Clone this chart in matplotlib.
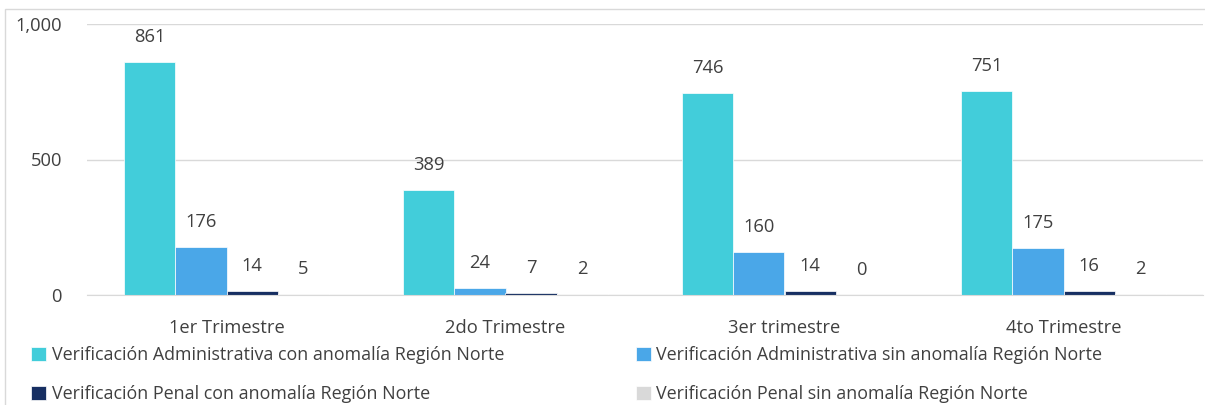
import numpy as np
import matplotlib.pyplot as plt
from matplotlib.patches import Rectangle

# data
categories = ["1er Trimestre", "2do Trimestre", "3er trimestre", "4to Trimestre"]
series_names = [
    "Verificación Administrativa con anomalía Región Norte",
    "Verificación Administrativa sin anomalía Región Norte",
    "Verificación Penal con anomalía Región Norte",
    "Verificación Penal sin anomalía Región Norte",
]
adm_con = [861, 389, 746, 751]
adm_sin = [176, 24, 160, 175]
pen_con = [14, 7, 14, 16]
pen_sin = [5, 2, 0, 2]
colors = ["#42CDDA", "#4AA7E8", "#172F62", "#D9D9D9"]

plt.rcParams['font.family'] = ['Open Sans', 'DejaVu Sans']
text_col = "#404040"
fs = 13.2

fig = plt.figure(figsize=(12.05, 4.05), dpi=100)
ax = fig.add_axes([87/1205, 1 - 295/405, 1116/1205, (295 - 24)/405])

x = np.arange(len(categories))
width = 0.183
all_series = [adm_con, adm_sin, pen_con, pen_sin]
handles = []
for i, (vals, col, name) in enumerate(zip(all_series, colors, series_names)):
    pos = x + (i - 1.5) * width
    bars = ax.bar(pos, vals, width, color=col, label=name, edgecolor="white", linewidth=0.5)
    handles.append(bars)
    for p, v in zip(pos, vals):
        ax.annotate(str(v), (p, v), xytext=(0, 18), textcoords="offset points",
                    ha="center", va="center", fontsize=fs, color=text_col)

ax.set_xlim(-0.5, 3.5)
ax.set_ylim(0, 1000)
ax.set_yticks([0, 500, 1000])
ax.set_yticklabels(["0", "500", "1,000"])
ax.set_xticks(x)
ax.set_xticklabels(categories)
ax.tick_params(axis="both", length=0, labelsize=fs, colors=text_col)
ax.tick_params(axis="x", pad=17)
ax.tick_params(axis="y", pad=18)
ax.grid(axis="y", color="#D9D9D9", linewidth=1)
ax.set_axisbelow(True)
for s in ["top", "right", "left"]:
    ax.spines[s].set_visible(False)
ax.spines["bottom"].set_color("#D9D9D9")

# outer chart frame
fig.patches.append(Rectangle((5/1205, -0.1), 1.2, 1 - 9/405 + 0.1, transform=fig.transFigure,
                             fill=False, edgecolor="#D9D9D9", linewidth=1))

# legend filled row by row
order = [0, 2, 1, 3]
fig.legend([handles[k] for k in order], [series_names[k] for k in order],
           loc="upper left", bbox_to_anchor=(22/1205, 1 - 337/405), ncol=2, frameon=False,
           fontsize=12.9, labelcolor=text_col, handlelength=0.85, handleheight=0.85,
           handletextpad=0.3, columnspacing=7.35, labelspacing=1.18, borderpad=0)

fig.savefig("out.png", dpi=100)
